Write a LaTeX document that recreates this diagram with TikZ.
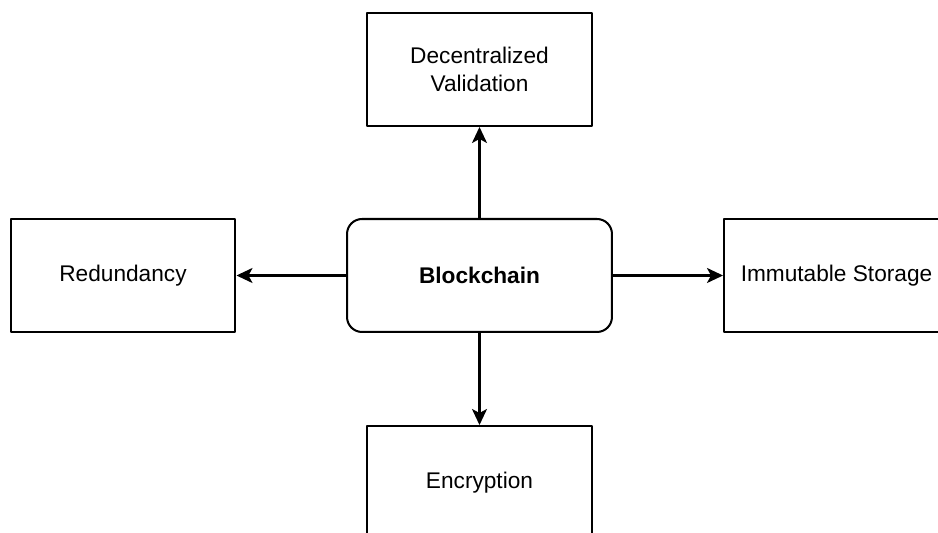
\documentclass[tikz,border=0pt]{standalone}
\usepackage{fontspec}
\setmainfont{Liberation Sans}
\usetikzlibrary{arrows.meta}
\begin{document}
\begin{tikzpicture}[x=0.02cm, y=-0.02cm, font=\fontsize{12.9}{15.8}\selectfont, line join=round,
	>={Stealth[length=0.32cm, width=0.3cm, inset=0.08cm]},
	box/.style={draw, line width=1.15pt, minimum width=4.5cm, minimum height=2.26cm, align=center, inner sep=0pt}]
			\clip (0,0) rectangle (938,533);
			\path
			(479.5,275.5) node[box, minimum width=5.3cm, rounded corners=0.3cm, font=\fontsize{12.9}{15.8}\selectfont\bfseries] (B) {Blockchain}
			(479.5,69.5) node[box] (V) {Decentralized\\Validation}
			(123,275.5) node[box] (R) {Redundancy}
			(836.5,275.5) node[box] (I) {Immutable Storage}
			(479.5,482.5) node[box] (E) {Encryption}
			;
			\foreach \t in {V,R,I,E}
			\draw[->, line width=1.15pt] (B) -- (\t);
		\end{tikzpicture}
\end{document}
